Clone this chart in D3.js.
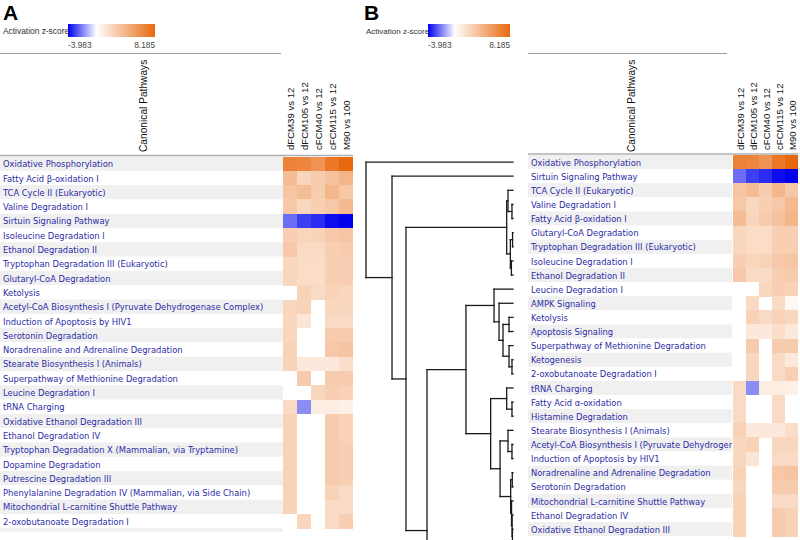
<!DOCTYPE html>
<html><head><meta charset="utf-8">
<script src="https://cdn.jsdelivr.net/npm/d3@7"></script>
<style>body{margin:0;background:#fff} svg{display:block}</style>
</head><body><svg id="c" width="800" height="540"></svg>
<script>
const comparisons = ["dFCM39 vs 12","dFCM105 vs 12","cFCM40 vs 12","cFCM115 vs 12","M90 vs 100"];

const pathways = [
 "Oxidative Phosphorylation",
 "Fatty Acid β-oxidation I",
 "TCA Cycle II (Eukaryotic)",
 "Valine Degradation I",
 "Sirtuin Signaling Pathway",
 "Isoleucine Degradation I",
 "Ethanol Degradation II",
 "Tryptophan Degradation III (Eukaryotic)",
 "Glutaryl-CoA Degradation",
 "Ketolysis",
 "Acetyl-CoA Biosynthesis I (Pyruvate Dehydrogenase Complex)",
 "Induction of Apoptosis by HIV1",
 "Serotonin Degradation",
 "Noradrenaline and Adrenaline Degradation",
 "Stearate Biosynthesis I (Animals)",
 "Superpathway of Methionine Degradation",
 "Leucine Degradation I",
 "tRNA Charging",
 "Oxidative Ethanol Degradation III",
 "Ethanol Degradation IV",
 "Tryptophan Degradation X (Mammalian, via Tryptamine)",
 "Dopamine Degradation",
 "Putrescine Degradation III",
 "Phenylalanine Degradation IV (Mammalian, via Side Chain)",
 "Mitochondrial L-carnitine Shuttle Pathway",
 "2-oxobutanoate Degradation I",
 "AMPK Signaling",
 "Apoptosis Signaling",
 "Ketogenesis",
 "Fatty Acid α-oxidation",
 "Histamine Degradation"
];

// z-scores per pathway, in the order of `comparisons` (null = not significant)
const zScores = [
 [6.8, 6.6, 5.8, 7.3, 8.185],
 [3.6, 2.3, 2.8, 3.3, 4.0],
 [3.1, 3.6, 2.7, 3.9, 3.0],
 [3.0, 2.2, 2.6, 3.0, 3.8],
 [-2.3, -3.0, -3.3, -3.8, -3.983],
 [2.6, 2.3, 2.4, 2.9, 3.1],
 [2.9, 2.0, 2.0, 2.6, 2.8],
 [2.2, 1.9, 1.9, 2.6, 2.6],
 [2.2, 1.9, 1.9, 2.6, 2.6],
 [null, 2.4, 2.0, 2.4, 2.2],
 [2.2, 2.4, null, 2.2, 2.2],
 [2.2, 1.4, null, 2.0, 2.0],
 [2.2, null, null, 2.8, 2.8],
 [2.4, null, null, 3.0, 3.2],
 [2.4, 1.2, 1.2, 1.2, 1.8],
 [null, 2.8, null, 2.8, 2.8],
 [null, null, 2.2, 2.6, 2.4],
 [2.0, -1.8, 1.0, 1.0, 0.8],
 [2.4, null, null, 2.8, 2.4],
 [2.4, null, null, 2.8, 2.4],
 [2.4, null, null, 2.8, 2.6],
 [2.4, null, null, 2.8, 2.6],
 [2.4, null, null, 2.8, 2.6],
 [2.4, null, null, 2.4, 2.0],
 [2.4, null, null, 2.0, 2.0],
 [null, 2.2, null, 2.0, 2.6],
 [null, 2.0, null, 2.0, 0.4],
 [null, 1.2, 1.2, 1.8, 1.2],
 [null, 2.2, null, 2.0, 1.2],
 [2.0, null, null, 2.0, null],
 [2.0, null, null, 2.0, null]
];

const orderA = pathways.slice(0, 26);
const orderB = [
 "Oxidative Phosphorylation","Sirtuin Signaling Pathway","TCA Cycle II (Eukaryotic)","Valine Degradation I",
 "Fatty Acid β-oxidation I","Glutaryl-CoA Degradation","Tryptophan Degradation III (Eukaryotic)",
 "Isoleucine Degradation I","Ethanol Degradation II","Leucine Degradation I","AMPK Signaling","Ketolysis",
 "Apoptosis Signaling","Superpathway of Methionine Degradation","Ketogenesis","2-oxobutanoate Degradation I",
 "tRNA Charging","Fatty Acid α-oxidation","Histamine Degradation","Stearate Biosynthesis I (Animals)",
 "Acetyl-CoA Biosynthesis I (Pyruvate Dehydrogenase Complex)","Induction of Apoptosis by HIV1",
 "Noradrenaline and Adrenaline Degradation","Serotonin Degradation","Mitochondrial L-carnitine Shuttle Pathway",
 "Ethanol Degradation IV","Oxidative Ethanol Degradation III"
];

const zDomain = [-3.983, 0, 8.185];
const legendTicks = ["-3.983", "8.185"];
const legendTitle = "Activation z-score";
const headerTitle = "Canonical Pathways";

// leaves not visible in the cropped view (row index below the last visible row)
const offscreenLeafRows = {"rows below view (a)": 27, "rows below view (b)": 37.5};

// hierarchical clustering of panel B (h = merge height, 0..100)
const dendroB = {h:100, children:[
 "Oxidative Phosphorylation",
 {h:82.3, children:[
  "Sirtuin Signaling Pathway",
  {h:72.8, children:[
   {h:4.3, children:[
     {h:3.4, children:["TCA Cycle II (Eukaryotic)", {h:0.7, children:["Valine Degradation I","Fatty Acid β-oxidation I"]}]},
     {h:1.8, children:[
       {h:0.3, children:["Glutaryl-CoA Degradation","Tryptophan Degradation III (Eukaryotic)"]},
       {h:1.1, children:["Isoleucine Degradation I","Ethanol Degradation II"]}]}
   ]},
   {h:58.5, children:[
     {h:32, children:[
       {h:12.9, children:[
         "Leucine Degradation I",
         {h:9.5, children:[
           "AMPK Signaling",
           {h:6.8, children:[
             {h:2.7, children:["Ketolysis","Apoptosis Signaling"]},
             {h:2.7, children:["Superpathway of Methionine Degradation",
                {h:0.7, children:["Ketogenesis","2-oxobutanoate Degradation I"]}]}
           ]}
         ]}
       ]},
       {h:15.2, children:[
         {h:4.3, children:["tRNA Charging", {h:0.7, children:["Fatty Acid α-oxidation","Histamine Degradation"]}]},
         {h:8.8, children:[
           {h:3.4, children:["Stearate Biosynthesis I (Animals)",
              {h:0.7, children:["Acetyl-CoA Biosynthesis I (Pyruvate Dehydrogenase Complex)","Induction of Apoptosis by HIV1"]}]},
           {h:1.6, children:[
             {h:0.5, children:["Noradrenaline and Adrenaline Degradation","Serotonin Degradation"]},
             {h:1.0, children:["Mitochondrial L-carnitine Shuttle Pathway",
               {h:0.6, children:["Ethanol Degradation IV",
                 {h:0.4, children:["Oxidative Ethanol Degradation III","rows below view (a)"]}]}]}
           ]}
         ]}
       ]}
     ]},
     "rows below view (b)"
   ]}
  ]}
 ]}
]};

const zOf = new Map(pathways.map((p, i) => [p, zScores[i]]));
const color = d3.scaleLinear().domain(zDomain).range(["#0000ee", "#ffffff", "#e8680e"]);

const svg = d3.select("#c");
const LABEL_FONT = "'DejaVu Sans Condensed','DejaVu Sans',Verdana,sans-serif";
const ARIAL = "'Liberation Sans',Arial,sans-serif";

// gradient
const defs = svg.append("defs");
const grad = defs.append("linearGradient").attr("id", "zgrad");
zDomain.forEach(v => grad.append("stop")
  .attr("offset", (v - zDomain[0]) / (zDomain[2] - zDomain[0]))
  .attr("stop-color", color(v)));

function drawPanel(cfg) {
  const g = svg.append("g");
  const clipId = "clip" + cfg.letter;
  defs.append("clipPath").attr("id", clipId).append("rect")
    .attr("x", cfg.labelX0).attr("y", 0).attr("width", cfg.labelX1 - cfg.labelX0).attr("height", 540);

  g.append("text").attr("x", cfg.letterX).attr("y", 20).text(cfg.letter)
    .style("font", "bold 21px " + ARIAL).attr("fill", "#000");

  // legend
  g.append("text").attr("x", cfg.legTextX).attr("y", 33.5).text(legendTitle)
    .style("font-family", ARIAL).style("font-size", cfg.legFont + "px").attr("fill", "#333");
  g.append("rect").attr("x", cfg.legX).attr("y", 24).attr("width", cfg.legW).attr("height", 13)
    .attr("fill", "url(#zgrad)");
  g.append("text").attr("x", cfg.legX).attr("y", 48).text(legendTicks[0])
    .style("font-family", ARIAL).style("font-size", "8.3px").attr("fill", "#444");
  g.append("text").attr("x", cfg.legX + cfg.legW).attr("y", 48).attr("text-anchor", "end").text(legendTicks[1])
    .style("font-family", ARIAL).style("font-size", "8.3px").attr("fill", "#444");

  // scales
  const y = d3.scaleBand().domain(cfg.order)
    .range([cfg.rowTop, cfg.rowTop + cfg.rowH * cfg.order.length]);
  const x = d3.scaleBand().domain(comparisons).range([cfg.heatX0, cfg.heatX1]);

  // header
  g.append("line").attr("x1", cfg.labelX0).attr("x2", cfg.topLineX1).attr("y1", 53.5).attr("y2", 53.5)
    .attr("stroke", "#9a9a9a").attr("stroke-width", 1);
  g.append("text").attr("transform", `translate(${(cfg.labelX0 + cfg.labelX1) / 2 + 5},152) rotate(-90)`)
    .text(headerTitle).style("font-family", ARIAL).style("font-size", "10.2px").attr("fill", "#111");
  g.selectAll(".col").data(comparisons).join("text")
    .attr("transform", d => `translate(${x(d) + x.bandwidth() / 2 + 4},150) rotate(-90)`)
    .text(d => d).style("font-family", ARIAL).style("font-size", "9.6px").attr("fill", "#111");

  // bands
  g.selectAll(".band").data(cfg.order).join("rect")
    .attr("x", cfg.labelX0).attr("y", d => y(d)).attr("width", cfg.labelX1 - cfg.labelX0)
    .attr("height", y.bandwidth())
    .attr("fill", (d, i) => i % 2 === 0 ? "#f0f0f0" : "#ffffff");
  if (cfg.extraBand) {
    g.append("rect").attr("x", cfg.labelX0).attr("y", y.range()[1]).attr("width", cfg.labelX1 - cfg.labelX0)
      .attr("height", cfg.extraBand).attr("fill", "#f0f0f0");
  }
  g.append("line").attr("x1", cfg.labelX0).attr("x2", cfg.heatX1).attr("y1", cfg.rowTop - 1).attr("y2", cfg.rowTop - 1)
    .attr("stroke", "#b0b0b0").attr("stroke-width", 1.6);

  // labels
  g.append("g").attr("clip-path", `url(#${clipId})`)
    .selectAll("text").data(cfg.order).join("text")
    .attr("x", cfg.labelX0 + 3).attr("y", d => y(d) + y.bandwidth() / 2 + 3.6)
    .text(d => d).style("font-family", LABEL_FONT).style("font-size", "9.3px")
    .attr("fill", "#2b2ba6");

  // cells
  const cells = [];
  cfg.order.forEach(p => zOf.get(p).forEach((v, j) => { if (v !== null) cells.push({p, c: comparisons[j], v}); }));
  g.selectAll(".cell").data(cells).join("rect")
    .attr("x", d => x(d.c)).attr("y", d => y(d.p))
    .attr("width", x.bandwidth() + 0.3).attr("height", y.bandwidth() + 0.3)
    .attr("fill", d => color(d.v)).attr("shape-rendering", "crispEdges");
  return {y};
}

drawPanel({letter: "A", letterX: 3, legTextX: 3, legX: 68, legW: 87, legFont: 8.4,
  labelX0: 0, labelX1: 283, topLineX1: 281, heatX0: 283, heatX1: 353,
  rowTop: 156.5, rowH: 14.3, order: orderA, extraBand: 3.5});

const pB = drawPanel({letter: "B", letterX: 364, legTextX: 366, legX: 428, legW: 82, legFont: 8,
  labelX0: 528, labelX1: 732, topLineX1: 727, heatX0: 733, heatX1: 798,
  rowTop: 155, rowH: 14.12, order: orderB});

// dendrogram
const root = d3.hierarchy(dendroB, d => typeof d === "string" ? null : d.children);
const hx = d3.scaleLinear().domain([0, 100]).range([513, 366]);
const rowH = pB.y.step();
const leafY = name => pB.y.domain().includes(name)
  ? pB.y(name) + pB.y.bandwidth() / 2
  : pB.y.range()[0] + (offscreenLeafRows[name] + 0.5) * rowH;
root.eachAfter(n => {
  if (!n.children) { n.py = leafY(n.data); n.px = hx(0); }
  else {
    n.px = hx(n.data.h);
    n.py = (n.children[0].py + n.children[n.children.length - 1].py) / 2;
  }
});
const segs = [];
root.each(n => {
  if (!n.children) return;
  segs.push([n.px, n.children[0].py, n.px, n.children[n.children.length - 1].py]);
  n.children.forEach(c => segs.push([n.px, c.py, c.px, c.py]));
});
svg.append("g").selectAll("line").data(segs).join("line")
  .attr("x1", d => d[0]).attr("y1", d => d[1]).attr("x2", d => d[2]).attr("y2", d => d[3])
  .attr("stroke", "#1a1a1a").attr("stroke-width", 1.3).attr("stroke-linecap", "square");
</script></body></html>
